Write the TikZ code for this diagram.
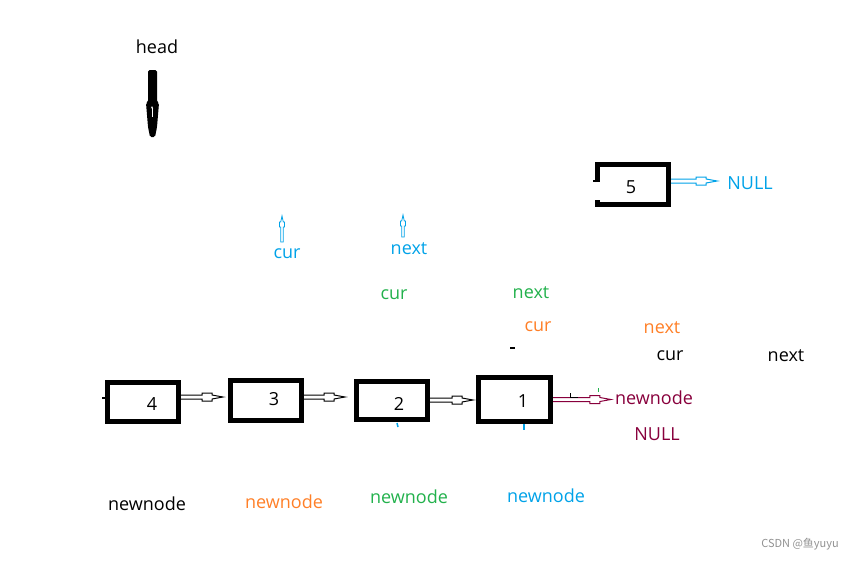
\documentclass[tikz,border=0pt]{standalone}
\usepackage{fontspec}
\setmainfont{Open Sans}
\newfontfamily\cjkfont{Noto Sans CJK SC}
\usetikzlibrary{
  calc, % For let and shifted anchors
  arrows.meta % For arrow tips
}
\definecolor{paintblue}{RGB}{0,162,232}
\definecolor{paintgreen}{RGB}{34,177,76}
\definecolor{paintorange}{RGB}{255,127,39}
\definecolor{paintred}{RGB}{136,0,60}
\definecolor{markgray}{RGB}{145,145,145}

\begin{document}
\begin{tikzpicture}[
      x=1pt, y=-1pt, % Pixel coordinates, y nach unten
      txt/.style={inner sep=0pt, font=\fontsize{18}{20}\selectfont}, % Beschriftung
      box/.style={draw, line width=5pt, inner sep=0pt}, % Listenknoten
      harrow/.style={line width=1pt, % hohler Pfeil nach rechts
        to path={let \p1=(\tikztostart), \p2=(\tikztotarget) in
          (\x1,\y1+2pt) -- (\x2-21pt,\y1+2pt) -- (\x2-21pt,\y1+4pt) -- (\x2-11pt,\y1+4pt)
          -- (\x2-11pt,\y1+2pt) -- (\x2,\y1) -- (\x2-11pt,\y1-2pt) -- (\x2-11pt,\y1-4pt)
          -- (\x2-21pt,\y1-4pt) -- (\x2-21pt,\y1-2pt) -- (\x1,\y1-2pt)}},
      vharrow/.style={line width=0.8pt, % hohler Pfeil nach oben
        to path={let \p1=(\tikztostart), \p2=(\tikztotarget) in
          (\x1-1.3pt,\y1) -- (\x1-1.3pt,\y2-11pt) -- (\x1-2.5pt,\y2-11pt) -- (\x1-2.5pt,\y2-6pt)
          -- (\x1-1.3pt,\y2-6pt) -- (\x1,\y2) -- (\x1+1.3pt,\y2-6pt) -- (\x1+2.5pt,\y2-6pt)
          -- (\x1+2.5pt,\y2-11pt) -- (\x1+1.3pt,\y2-11pt) -- (\x1+1.3pt,\y1) -- cycle}},
    ]
    \useasboundingbox (0,0) rectangle (858,560);

    % Zeiger head
    \node[txt] (head) at (157,47) {head};
    \fill[rounded corners=1.5pt] (148,70) -- (157,70) -- (157,102) -- (159,103) -- (157,127)
      -- (155,137) -- (150,137) -- (148,127) -- (146,103) -- (148,102) -- cycle;
    \draw[white, line width=0.8pt, -{Stealth[length=2.5pt,width=2pt]}] (152,117) -- (152,106);

    % Knoten 5 (links offen)
    \node[inner sep=0pt, minimum width=76pt, minimum height=45pt] (b5) at (633,184.5) {};
    \draw[line width=5pt] (597.5,182) -- (597.5,164.5) -- (668.5,164.5) -- (668.5,204.5)
      -- (597.5,204.5) -- (597.5,200);
    \draw[line width=1.5pt] (593,181) -- (597,181);
    \node[txt] (n5) at (631,187) {5};
    \node[txt, paintblue] (null5) at (750,183) {NULL};

    % Liste 4 -> 3 -> 2 -> 1
    \node[box, minimum width=71pt, minimum height=39pt] (b4) at (143,402) {};
    \node[box, minimum width=71pt, minimum height=40pt] (b3) at (266,400.5) {};
    \node[box, minimum width=71pt, minimum height=38pt] (b2) at (392,400.5) {};
    \node[box, minimum width=72pt, minimum height=44pt] (b1) at (514.5,399.5) {};
    \node[txt] (n4) at (152,404) {4};
    \node[txt] (n3) at (274,399) {3};
    \node[txt] (n2) at (399,404) {2};
    \node[txt] (n1) at (523,401) {1};
    \draw[line width=2pt] (102,398) -- (108,398);

    % Zeiger cur / next
    \node[txt, paintblue] (cur1) at (287,254) {cur};
    \node[txt, paintblue] (next1) at (409,249) {next};
    \node[txt, paintgreen] (cur2) at (394,295) {cur};
    \node[txt, paintgreen] (next2) at (531,293) {next};
    \node[txt, paintorange] (cur3) at (538,327) {cur};
    \node[txt, paintorange] (next3) at (662,328) {next};
    \node[txt] (cur4) at (670,356) {cur};
    \node[txt] (next4) at (786,356) {next};
    \coordinate (cur1foot) at (282,242);
    \coordinate (cur1tip) at (282,216);
    \coordinate (next1foot) at (403,237);
    \coordinate (next1tip) at (403,215);
    \draw[vharrow, paintblue] (cur1foot) to (cur1tip);
    \draw[vharrow, paintblue] (next1foot) to (next1tip);

    % newnode
    \node[txt, paintred] (nn) at (654,398) {newnode};
    \node[txt, paintred] (null1) at (657,434) {NULL};
    \node[txt] (nn1) at (147,504) {newnode};
    \node[txt, paintorange] (nn2) at (284,502) {newnode};
    \node[txt, paintgreen] (nn3) at (409,497) {newnode};
    \node[txt, paintblue] (nn4) at (546,496) {newnode};

    % Verbindungen
    \draw[harrow] ([yshift=5pt]b4.east) to ([xshift=-5pt]b3.west);
    \draw[harrow] ([yshift=3.5pt]b3.east) to ([xshift=-9pt]b2.west);
    \draw[harrow] ([yshift=0.5pt]b2.east) to ([xshift=-3pt]b1.west);
    \draw[harrow, paintred] (b1.east) to ([xshift=-4pt]nn.west);
    \draw[harrow, paintblue] ([yshift=3.5pt]b5.east) to ([xshift=-10pt]null5.west);

    % kleine Striche
    \draw[line width=1pt] (570,393) -- (570,397) -- (578,397);
    \draw[line width=1.5pt] (510,348) -- (515,348);
    \draw[paintblue, line width=1.5pt] (397,423) -- (398,427);
    \draw[paintblue, line width=2pt] (524,424) -- (524,430);
    \draw[paintgreen, line width=1pt] (598,388) -- (598,392);

    % Wasserzeichen
    \node[inner sep=0pt, text=markgray, font=\cjkfont\fontsize{11}{13}\selectfont] (mark)
      at (800,544) {CSDN @鱼yuyu};
  \end{tikzpicture}
\end{document}
